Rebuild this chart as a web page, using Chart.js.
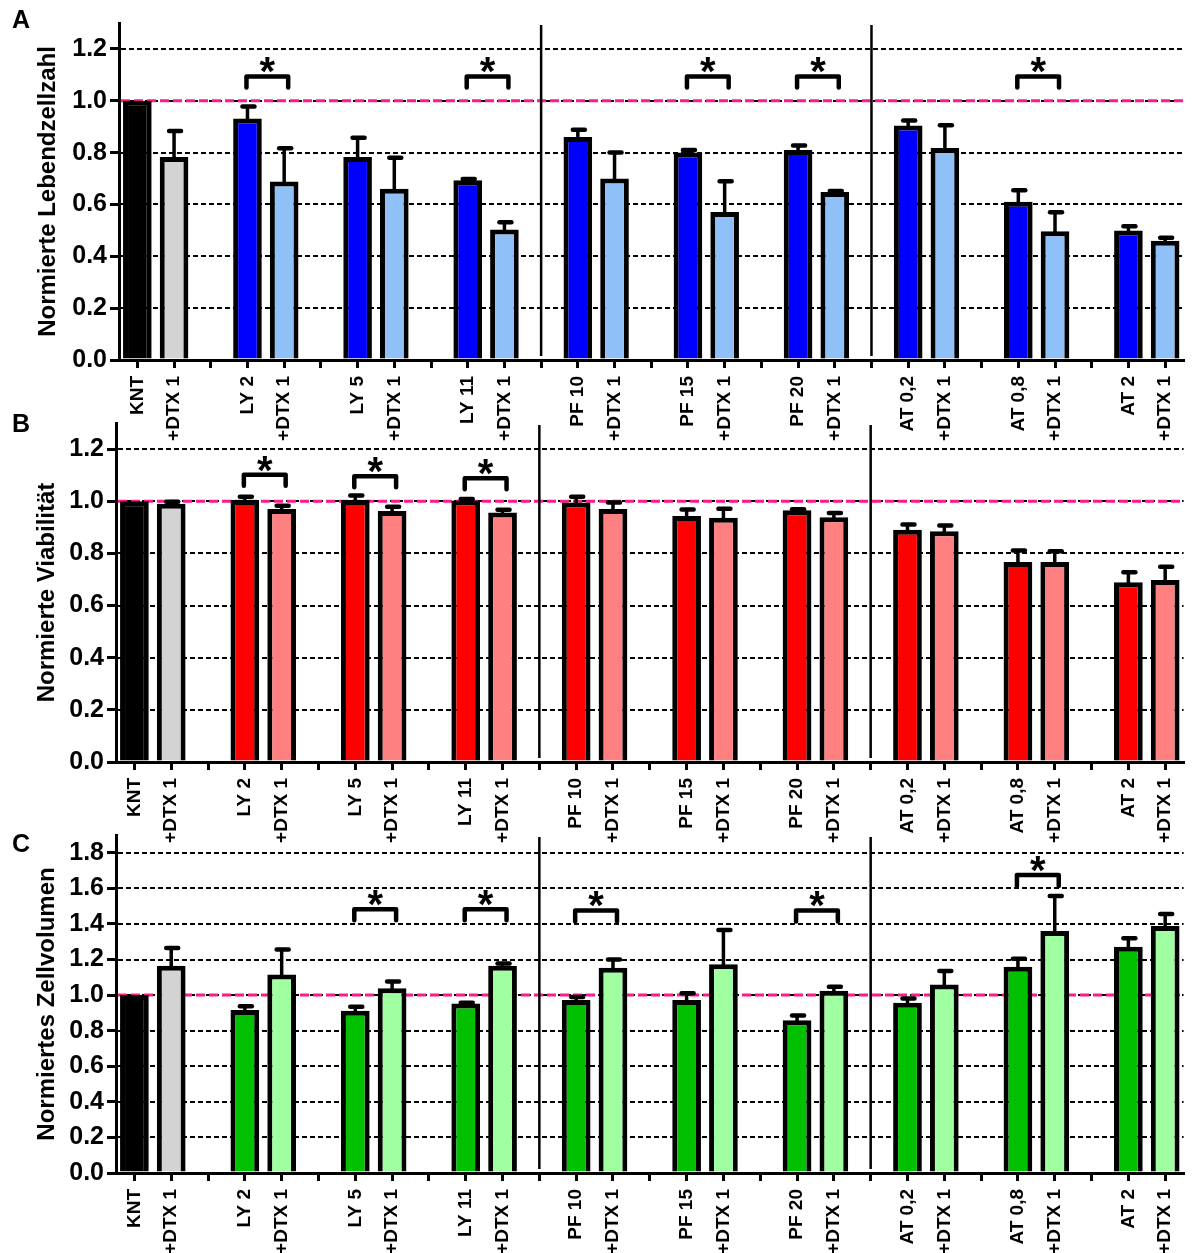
<!DOCTYPE html>
<html>
<head>
<meta charset="utf-8">
<script src="https://cdn.jsdelivr.net/npm/chart.js@4"></script>
<style>
    body { margin: 0; background: #fff; }
    #wrap { position: relative; width: 1196px; height: 1253px; overflow: hidden; }
    canvas { position: absolute; left: 0; }
</style>
</head>
<body>
<div id="wrap">
    <canvas id="chartA" width="1196" height="450" style="top:0px"></canvas>
    <canvas id="chartB" width="1196" height="450" style="top:401px"></canvas>
    <canvas id="chartC" width="1196" height="441" style="top:812px"></canvas>
</div>
<script>
// groups on the x axis, each one followed by its "+DTX 1" bar
const groups = ['KNT', 'LY 2', 'LY 5', 'LY 11', 'PF 10', 'PF 15', 'PF 20', 'AT 0,2', 'AT 0,8', 'AT 2'];
const dtxLabel = '+DTX 1';

// A - Lebendzellzahl
const cellsBase = [1.00, 0.932, 0.783, 0.693, 0.86, 0.80, 0.81, 0.905, 0.61, 0.50];
const cellsBaseErr = [0, 0.046, 0.074, 0.005, 0.028, 0.01, 0.017, 0.019, 0.045, 0.016];
const cellsDtx = [0.783, 0.689, 0.661, 0.503, 0.70, 0.571, 0.648, 0.818, 0.497, 0.46];
const cellsDtxErr = [0.10, 0.128, 0.119, 0.028, 0.10, 0.119, 0.004, 0.088, 0.073, 0.012];
const cellsSig = [1, 3, 5, 6, 8];
const cellsSigTop = [1.094, 1.094, 1.094, 1.094, 1.094];

// B - Viabilität
const viaBase = [1.00, 1.005, 1.005, 1.003, 0.995, 0.943, 0.965, 0.891, 0.767, 0.689];
const viaBaseErr = [0, 0.012, 0.017, 0.006, 0.022, 0.025, 0.004, 0.02, 0.044, 0.039];
const viaDtx = [0.99, 0.97, 0.963, 0.957, 0.97, 0.937, 0.939, 0.885, 0.767, 0.698];
const viaDtxErr = [0.008, 0.013, 0.016, 0.01, 0.025, 0.034, 0.016, 0.022, 0.041, 0.051];
const viaSig = [1, 2, 3];
const viaSigTop = [1.102, 1.096, 1.088];

// C - Zellvolumen
const volBase = [1.00, 0.916, 0.912, 0.953, 0.972, 0.972, 0.859, 0.957, 1.159, 1.272];
const volBaseErr = [0, 0.022, 0.022, 0.004, 0.018, 0.038, 0.027, 0.024, 0.045, 0.047];
const volDtx = [1.165, 1.116, 1.038, 1.165, 1.154, 1.174, 1.024, 1.06, 1.36, 1.388];
const volDtxErr = [0.10, 0.141, 0.039, 0.013, 0.046, 0.192, 0.023, 0.075, 0.197, 0.068];
const volSig = [2, 3, 4, 6, 8];
const volSigTop = [1.482, 1.482, 1.476, 1.476, 1.675];

const FONT = "'Liberation Sans', Arial, Helvetica, sans-serif";

// 3 slots per group (base, dtx, gap), last gap dropped
const labels = [];
groups.forEach((g, i) => {
    labels.push(g, dtxLabel);
    if (i < groups.length - 1) labels.push('');
});
const baseSlot = i => i * 3;
const dtxSlot = i => i * 3 + 1;
const separatorSlots = [11, 20];

function slotValues(base, dtx) {
    const out = labels.map(() => null);
    groups.forEach((g, i) => {
        out[baseSlot(i)] = base[i];
        out[dtxSlot(i)] = dtx[i];
    });
    return out;
}

function slotColors(dark, light) {
    const out = labels.map(() => 'rgba(0,0,0,0)');
    groups.forEach((g, i) => {
        out[baseSlot(i)] = i === 0 ? '#000000' : dark;
        out[dtxSlot(i)] = i === 0 ? '#d3d3d3' : light;
    });
    return out;
}

const extrasPlugin = {
    id: 'extras',
    beforeDatasetsDraw(chart) {
        const {ctx, chartArea, scales: {x, y}} = chart;
        ctx.save();
        // dashed grid
        ctx.strokeStyle = '#000';
        ctx.lineWidth = 2;
        ctx.setLineDash([5, 3]);
        y.ticks.forEach(t => {
            if (t.value === 0) return;
            const py = Math.round(y.getPixelForValue(t.value));
            ctx.beginPath();
            ctx.moveTo(chartArea.left + 2, py);
            ctx.lineTo(chartArea.right, py);
            ctx.stroke();
        });
        // reference line at 1.0
        ctx.strokeStyle = '#ff1a8c';
        ctx.lineWidth = 3;
        ctx.setLineDash([9, 4]);
        const p1 = y.getPixelForValue(1);
        ctx.beginPath();
        ctx.moveTo(chartArea.left + 2, p1);
        ctx.lineTo(chartArea.right, p1);
        ctx.stroke();
        // separators
        ctx.setLineDash([]);
        ctx.strokeStyle = '#000';
        ctx.lineWidth = 2.5;
        separatorSlots.forEach(s => {
            const px = x.getPixelForValue(s);
            ctx.beginPath();
            ctx.moveTo(px, chartArea.top + 2);
            ctx.lineTo(px, chartArea.bottom - 4);
            ctx.stroke();
        });
        ctx.restore();
    },
    afterDatasetsDraw(chart, args, opts) {
        const {ctx, scales: {x, y}} = chart;
        ctx.save();
        ctx.strokeStyle = '#000';
        ctx.fillStyle = '#000';
        // error bars (upper only)
        const drawErr = (slot, val, err) => {
            if (!err) return;
            const px = x.getPixelForValue(slot);
            const y0 = y.getPixelForValue(val);
            const y1 = y.getPixelForValue(val + err);
            ctx.lineWidth = 3.5;
            ctx.lineCap = 'butt';
            ctx.beginPath();
            ctx.moveTo(px, y0 + 2);
            ctx.lineTo(px, y1);
            ctx.stroke();
            ctx.lineWidth = 4.5;
            ctx.lineCap = 'round';
            ctx.beginPath();
            ctx.moveTo(px - 5, y1);
            ctx.lineTo(px + 7, y1);
            ctx.stroke();
        };
        groups.forEach((g, i) => {
            drawErr(baseSlot(i), opts.base[i], opts.baseErr[i]);
            drawErr(dtxSlot(i), opts.dtx[i], opts.dtxErr[i]);
        });
        // significance brackets
        ctx.lineWidth = 4.5;
        ctx.lineCap = 'round';
        ctx.lineJoin = 'round';
        ctx.font = 'bold 40px ' + FONT;
        ctx.textAlign = 'center';
        const m = ctx.measureText('*');
        const midOff = (m.actualBoundingBoxAscent - m.actualBoundingBoxDescent) / 2;
        opts.sig.forEach((gi, k) => {
            const xl = x.getPixelForValue(baseSlot(gi)) - 1;
            const xr = x.getPixelForValue(dtxSlot(gi)) + 4;
            const yt = y.getPixelForValue(opts.sigTop[k]);
            ctx.beginPath();
            ctx.moveTo(xl, yt + 11);
            ctx.lineTo(xl, yt);
            ctx.lineTo(xr, yt);
            ctx.lineTo(xr, yt + 11);
            ctx.stroke();
            ctx.fillText('*', (xl + xr) / 2, yt - 11 + midOff);
        });
        ctx.restore();
    },
    afterDraw(chart, args, opts) {
        const {ctx} = chart;
        ctx.save();
        ctx.fillStyle = '#000';
        ctx.font = 'bold 25px ' + FONT;
        ctx.textAlign = 'left';
        ctx.fillText(opts.letter, 12, opts.letterY);
        ctx.restore();
    }
};

function createPanel(id, cfg) {
    const ctx = document.getElementById(id);
    return new Chart(ctx.getContext('2d'), {
        type: 'bar',
        data: {
            labels: labels,
            datasets: [{
                data: slotValues(cfg.base, cfg.dtx),
                backgroundColor: slotColors(cfg.dark, cfg.light),
                borderColor: '#000',
                borderWidth: 5,
                barPercentage: 0.78,
                categoryPercentage: 1
            }]
        },
        options: {
            responsive: false,
            animation: false,
            events: [],
            layout: { padding: { top: cfg.top, right: cfg.right, left: 0, bottom: 0 } },
            plugins: {
                legend: { display: false },
                tooltip: { enabled: false },
                extras: {
                    base: cfg.base, baseErr: cfg.baseErr,
                    dtx: cfg.dtx, dtxErr: cfg.dtxErr,
                    sig: cfg.sig, sigTop: cfg.sigTop,
                    letter: cfg.letter, letterY: cfg.letterY
                }
            },
            scales: {
                x: {
                    offset: true,
                    grid: {
                        offset: false,
                        drawOnChartArea: false,
                        drawTicks: true,
                        tickLength: 8,
                        tickWidth: 3,
                        tickColor: '#000',
                        lineWidth: 3
                    },
                    border: { display: true, color: '#000', width: 3 },
                    ticks: {
                        autoSkip: false,
                        minRotation: 90,
                        maxRotation: 90,
                        padding: 8,
                        color: '#000',
                        font: { family: FONT, size: 19, weight: 'bold' }
                    },
                    afterFit: scale => { scale.height = cfg.xHeight; }
                },
                y: {
                    min: 0,
                    max: cfg.max,
                    grid: {
                        drawOnChartArea: false,
                        drawTicks: true,
                        tickLength: 9,
                        tickWidth: 3,
                        tickColor: '#000',
                        lineWidth: 3
                    },
                    border: { display: true, color: '#000', width: 3 },
                    ticks: {
                        stepSize: 0.2,
                        includeBounds: false,
                        padding: 3,
                        color: '#000',
                        font: { family: FONT, size: 25, weight: 'bold' },
                        callback: v => Number(v).toFixed(1)
                    },
                    title: {
                        display: true,
                        text: cfg.title,
                        color: '#000',
                        font: { family: FONT, size: 24, weight: 'bold' },
                        padding: { top: cfg.titlePad, bottom: 0 }
                    },
                    afterFit: scale => { scale.width = cfg.left; }
                }
            }
        },
        plugins: [extrasPlugin]
    });
}

createPanel('chartA', {
    base: cellsBase, baseErr: cellsBaseErr, dtx: cellsDtx, dtxErr: cellsDtxErr,
    sig: cellsSig, sigTop: cellsSigTop,
    dark: '#0000ff', light: '#90c0f8',
    max: 1.3, top: 23, right: 4, left: 119, xHeight: 90,
    title: 'Normierte Lebendzellzahl', titlePad: 34,
    letter: 'A', letterY: 28
});

createPanel('chartB', {
    base: viaBase, baseErr: viaBaseErr, dtx: viaDtx, dtxErr: viaDtxErr,
    sig: viaSig, sigTop: viaSigTop,
    dark: '#ff0000', light: '#ff8080',
    max: 1.3, top: 22, right: 1, left: 116, xHeight: 89,
    title: 'Normierte Viabilität', titlePad: 33,
    letter: 'B', letterY: 31
});

createPanel('chartC', {
    base: volBase, baseErr: volBaseErr, dtx: volDtx, dtxErr: volDtxErr,
    sig: volSig, sigTop: volSigTop,
    dark: '#00c000', light: '#a0ffa0',
    max: 1.9, top: 23, right: 1, left: 116, xHeight: 80,
    title: 'Normiertes Zellvolumen', titlePad: 33,
    letter: 'C', letterY: 40
});
</script>
</body>
</html>
